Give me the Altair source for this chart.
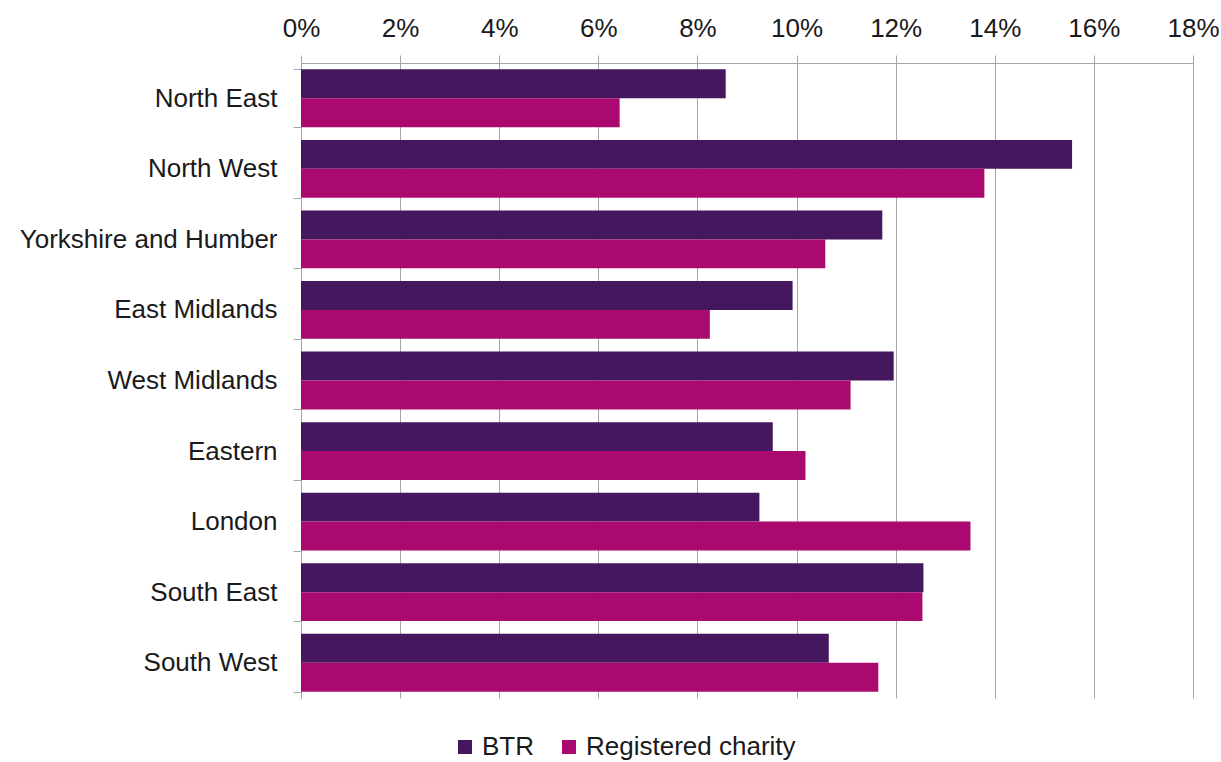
import altair as alt
import pandas as pd

regions = ["North East", "North West", "Yorkshire and Humber", "East Midlands",
           "West Midlands", "Eastern", "London", "South East", "South West"]
btr = [0.0857, 0.1556, 0.1173, 0.0992, 0.1196, 0.0952, 0.0925, 0.1256, 0.1065]
charity = [0.0643, 0.1379, 0.1058, 0.0825, 0.1109, 0.1018, 0.1351, 0.1254, 0.1165]
series = ["BTR", "Registered charity"]
colors = ["#44175F", "#AA0A6F"]
tick_values = [0, 0.02, 0.04, 0.06, 0.08, 0.10, 0.12, 0.14, 0.16, 0.18]

rows = []
for r, b, c in zip(regions, btr, charity):
    rows.append({"region": r, "series": series[0], "value": b})
    rows.append({"region": r, "series": series[1], "value": c})
df = pd.DataFrame(rows)

FONT = "Liberation Sans"
GRID = "#A6A6A6"
FS = 26

chart = alt.Chart(df).mark_bar().encode(
    y=alt.Y("region:N", sort=regions,
            scale=alt.Scale(paddingInner=0.18, paddingOuter=0.09),
            axis=alt.Axis(title=None, tickBand="extent", tickSize=8, tickColor=GRID,
                          domainColor=GRID, labelPadding=16, labelFontSize=FS,
                          labelColor="#1a1a1a", labelFont=FONT, grid=False,
                          labelLimit=400)),
    yOffset=alt.YOffset("series:N", sort=series,
                        scale=alt.Scale(paddingInner=0, paddingOuter=0)),
    x=alt.X("value:Q", scale=alt.Scale(domain=[0, 0.18], nice=False, zero=True),
            axis=alt.Axis(orient="top", title=None, format=".0%", values=tick_values,
                          tickSize=8, tickColor=GRID, domainColor=GRID, grid=True,
                          gridColor=GRID, gridOpacity=1, labelPadding=14,
                          labelFontSize=FS, labelColor="#1a1a1a", labelFont=FONT,
                          labelFlush=False)),
    color=alt.Color("series:N", sort=series,
                    scale=alt.Scale(domain=series, range=colors),
                    legend=alt.Legend(title=None, orient="none", direction="horizontal",
                                      legendX=151, legendY=671, symbolType="square",
                                      symbolSize=196, symbolStrokeWidth=0,
                                      labelFontSize=FS, labelFont=FONT,
                                      labelColor="#1a1a1a", columnPadding=22,
                                      labelOffset=4, padding=0, labelLimit=400))
).properties(
    width=892, height=635,
    padding={"left": 301, "top": 63, "right": 28, "bottom": 64},
    autosize="none"
).configure_view(stroke=None)

chart.save("out.html", embed_options={"renderer": "svg", "actions": False})
